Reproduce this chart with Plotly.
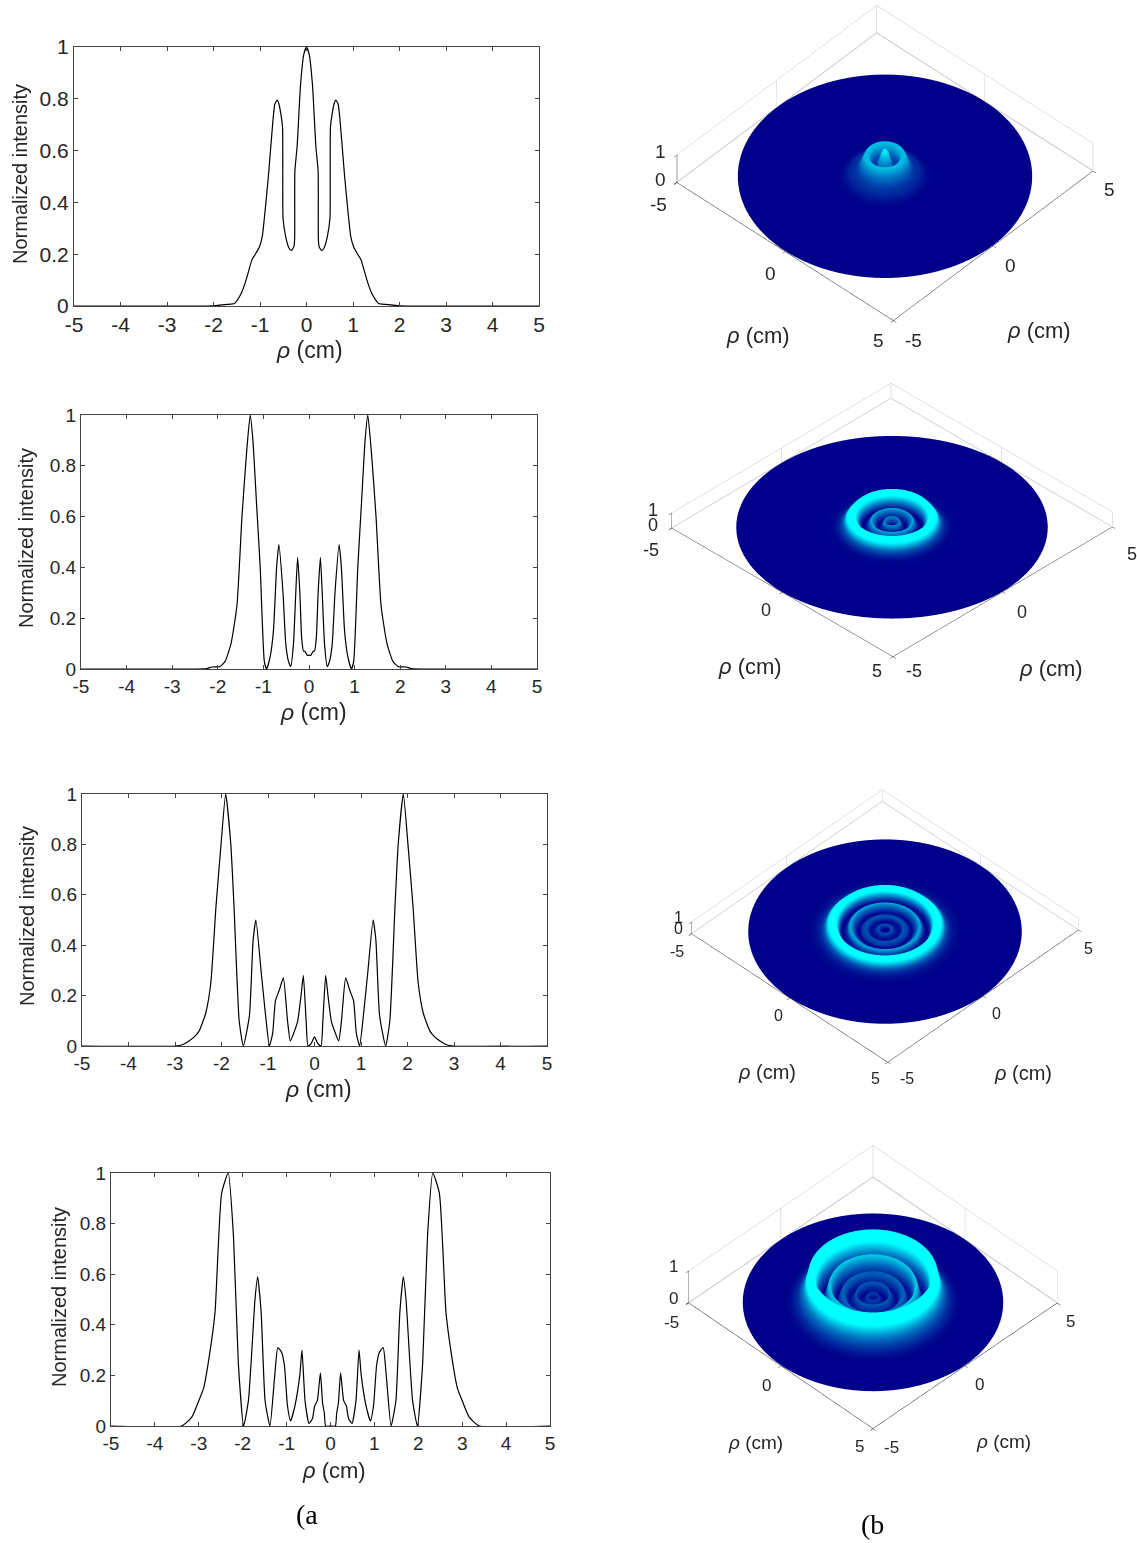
import numpy as np
import plotly.graph_objects as go

W, H = 1137, 1543

rho_1 = [0, .06, .13, .2, .25, .255, .27, .3, .33, .38, .45, .505, .51, .515, .55, .6, .63, .68, .72, .82, .9, .95, 1.01, 1.1, 1.17, 1.3, 1.4, 1.5, 1.55, 1.7, 2.0, 5.0]
int_1 = [1, .97, .85, .62, .52, .26, .23, .22, .215, .225, .27, .34, .5, .69, .74, .785, .795, .78, .72, .5, .35, .27, .23, .2, .18, .1, .05, .02, .01, .006, .001, 0]

rho_2 = [0, .04, .09, .12, .16, .2, .25, .29, .34, .4, .45, .51, .57, .66, .71, .78, .85, .93, .98, 1.07, 1.15, 1.23, 1.29, 1.37, 1.47, 1.58, 1.71, 1.84, 1.95, 2.13, 2.24, 5.0]
int_2 = [.054, .054, .07, .07, .12, .3, .44, .3, .1, .01, .03, .1, .3, .49, .4, .15, .05, 0, .03, .4, .65, .9, 1, .85, .6, .25, .1, .03, .01, .008, .002, 0]

rho_3 = [0, .07, .14, .18, .24, .29, .36, .43, .52, .58, .67, .76, .84, .9, .97, 1.04, 1.15, 1.26, 1.32, 1.4, 1.53, 1.62, 1.73, 1.8, 1.91, 2.01, 2.12, 2.23, 2.34, 2.48, 2.59, 2.7, 2.84, 2.99, 5.0]
int_3 = [.036, .01, 0, .1, .28, .2, .1, .06, .02, .1, .27, .22, .18, .05, 0, .1, .3, .5, .42, .12, 0, .1, .55, .8, 1, .8, .55, .25, .13, .06, .035, .02, .005, 0, 0]

rho_4 = [0, .11, .14, .18, .23, .3, .36, .41, .49, .58, .65, .7, .81, .91, .98, 1.05, 1.11, 1.2, 1.27, 1.38, 1.49, 1.58, 1.66, 1.72, 1.87, 1.98, 2.1, 2.21, 2.33, 2.48, 2.63, 2.74, 2.89, 3.0, 3.16, 3.39, 5.0]
int_4 = [0, 0, .05, .09, .21, .1, .08, .03, .01, .1, .3, .2, .08, .02, .08, .24, .29, .31, .2, 0, .1, .45, .59, .5, .1, 0, .25, .75, 1, .92, .45, .3, .15, .1, .035, 0, 0]

x_ticks = [-5, -4, -3, -2, -1, 0, 1, 2, 3, 4, 5]
x_ticktext = ["-5", "-4", "-3", "-2", "-1", "0", "1", "2", "3", "4", "5"]
y_ticks = [0, 0.2, 0.4, 0.6, 0.8, 1]
y_ticktext = ["0", "0.2", "0.4", "0.6", "0.8", "1"]
surface_ticks = [-5, 0, 5]
surface_ticktext = ["-5", "0", "5"]
height_ticks = [0, 1]
height_ticktext = ["0", "1"]
x_label = "<i>ρ</i> (cm)"
y_label = "Normalized intensity"

profiles = [(rho_1, int_1), (rho_2, int_2), (rho_3, int_3), (rho_4, int_4)]
FONT = "Liberation Sans"
INK = "#262626"

panels = [
    dict(box=(74, 539, 47, 306), tick=21, xt=(309, 350, 23), yt=(20, 174, 20)),
    dict(box=(81, 537, 415, 669), tick=19, xt=(313, 712, 23), yt=(26, 538, 20)),
    dict(box=(82, 547, 794, 1046), tick=19, xt=(318, 1089, 23), yt=(27, 916, 20)),
    dict(box=(111, 550, 1173, 1426), tick=19, xt=(334, 1470, 22), yt=(59, 1297, 20)),
]

scenes = [
    dict(cx=885, cy=163, eye=(0.490, -0.531, 0.691), zoom=1.84, zr=0.13, cmax=1.02, fs=19, ts=22,
         xo=[(-18, 22), (-15, 22), (-15, 20)], yo=[(20, 20), (17, 20), (16, 19)], zo=(-16, -3),
         xt=(-27, 84), yt=(46, 85)),
    dict(cx=892, cy=520, eye=(0.570, -0.575, 0.586), zoom=1.947, zr=0.06, cmax=0.7, fs=18, ts=22,
         xo=[(-21, 22), (-16, 18), (-16, 15)], yo=[(21, 15), (19, 20), (20, 27)], zo=(-19, -3),
         xt=(-32, 74), yt=(48, 77)),
    dict(cx=885, cy=926, eye=(0.515, -0.530, 0.674), zoom=1.71, zr=0.058, cmax=0.7, fs=16, ts=20,
         xo=[(-15, 18), (-11, 18), (-12, 17)], yo=[(19, 17), (13, 18), (10, 19)], zo=(-13, -5),
         xt=(-23, 74), yt=(40, 77)),
    dict(cx=873, cy=1287, eye=(0.517, -0.517, 0.682), zoom=1.628, zr=0.168, cmax=0.7, fs=17, ts=19,
         xo=[(-17, 20), (-14, 20), (-14, 18)], yo=[(18, 19), (14, 19), (13, 19)], zo=(-15, -4),
         xt=(-25, 77), yt=(38, 76)),
]
SCENE_W, SCENE_H = 480, 320

fig = go.Figure()
layout = dict(
    template="none", width=W, height=H, margin=dict(l=0, r=0, t=0, b=0),
    paper_bgcolor="white", plot_bgcolor="white", showlegend=False, annotations=[],
)


def paper_note(text, px, py, size, family=FONT, color=INK, angle=0):
    return dict(text=text, xref="paper", yref="paper", showarrow=False, x=px / W, y=1 - py / H,
                xanchor="center", yanchor="middle", textangle=angle,
                font=dict(family=family, size=size, color=color))


for i, ((rho, inten), p) in enumerate(zip(profiles, panels), start=1):
    l, r, t, b = p["box"]
    rr = np.array(rho)
    ii = np.array(inten)
    xs = np.concatenate([-rr[::-1], rr[1:]])
    ys = np.concatenate([ii[::-1], ii[1:]])
    fig.add_trace(go.Scatter(x=xs, y=ys, mode="lines", hoverinfo="skip",
                             line=dict(color="black", width=1.2, shape="spline", smoothing=0.5),
                             xaxis=f"x{i}", yaxis=f"y{i}"))
    common = dict(showgrid=False, zeroline=False, showline=True, linecolor="#444444", linewidth=1,
                  ticks="inside", ticklen=4, tickcolor="#444444", mirror="ticks", automargin=False,
                  tickfont=dict(family=FONT, size=p["tick"], color=INK))
    layout[f"xaxis{i}"] = dict(domain=[l / W, r / W], range=[-5, 5], tickvals=x_ticks,
                               ticktext=x_ticktext, anchor=f"y{i}", **common)
    layout[f"yaxis{i}"] = dict(domain=[1 - b / H, 1 - t / H], range=[0, 1], tickvals=y_ticks,
                               ticktext=y_ticktext, anchor=f"x{i}", **common)
    layout["annotations"].append(paper_note(x_label, p["xt"][0], p["xt"][1], p["xt"][2]))
    layout["annotations"].append(paper_note(y_label, p["yt"][0], p["yt"][1], p["yt"][2], angle=-90))

theta = np.radians(np.arange(0, 361, 3))
for i, ((rho, inten), sc) in enumerate(zip(profiles, scenes), start=1):
    rr = np.array(rho)
    ii = np.array(inten)
    zz = np.tile(ii[:, None], (1, theta.size))
    fig.add_trace(go.Surface(
        x=np.outer(rr, np.cos(theta)), y=np.outer(rr, np.sin(theta)), z=zz, surfacecolor=zz,
        cmin=0, cmax=sc["cmax"], showscale=False, hoverinfo="skip",
        colorscale=[[0, "#00008B"], [0.5, "#0070C0"], [1, "#00FFFF"]],
        lighting=dict(ambient=1, diffuse=0, specular=0, roughness=1, fresnel=0),
        scene=f"scene{i}"))
    ax = dict(showbackground=False, showgrid=True, gridcolor="#C4C4C4", gridwidth=1,
              zeroline=False, showline=True, linecolor="#333333", linewidth=1,
              ticks="outside", ticklen=4, tickcolor="#333333", title=dict(text=""),
              showticklabels=False, showspikes=False)
    e = np.array(sc["eye"]) * 4

    def note(text, x, y, z, off, size):
        return dict(text=text, x=x, y=y, z=z, xshift=off[0], yshift=-off[1], showarrow=False,
                    xanchor="center", yanchor="middle",
                    font=dict(family=FONT, size=size, color=INK))

    notes = []
    for tv, tt, off in zip(surface_ticks, surface_ticktext, sc["xo"]):
        notes.append(note(tt, tv, -5, 0, off, sc["fs"]))
    for tv, tt, off in zip(surface_ticks, surface_ticktext, sc["yo"]):
        notes.append(note(tt, 5, tv, 0, off, sc["fs"]))
    for tv, tt in zip(height_ticks, height_ticktext):
        notes.append(note(tt, -5, -5, tv, sc["zo"], sc["fs"]))
    notes.append(note(x_label, 0, -5, 0, sc["xt"], sc["ts"]))
    notes.append(note(x_label, 5, 0, 0, sc["yt"], sc["ts"]))

    layout[f"scene{i}"] = dict(
        domain=dict(x=[(sc["cx"] - SCENE_W / 2) / W, (sc["cx"] + SCENE_W / 2) / W],
                    y=[1 - (sc["cy"] + SCENE_H / 2) / H, 1 - (sc["cy"] - SCENE_H / 2) / H]),
        xaxis=dict(range=[-5, 5], tickvals=surface_ticks, **ax),
        yaxis=dict(range=[-5, 5], tickvals=surface_ticks, **ax),
        zaxis=dict(range=[-0.02, 1], tickvals=height_ticks, **ax),
        aspectmode="manual",
        aspectratio=dict(x=sc["zoom"], y=sc["zoom"], z=sc["zr"] * sc["zoom"]),
        annotations=notes,
        camera=dict(projection=dict(type="orthographic"), center=dict(x=0, y=0, z=0),
                    up=dict(x=0, y=0, z=1), eye=dict(x=e[0], y=e[1], z=e[2])),
    )

layout["annotations"].append(paper_note("(a", 307, 1514, 28, family="Liberation Serif", color="black"))
layout["annotations"].append(paper_note("(b", 872, 1524, 28, family="Liberation Serif", color="black"))

fig.update_layout(**layout)
fig.write_html("out.html", post_script="document.body.style.margin='0';",
               config={"displayModeBar": False})
